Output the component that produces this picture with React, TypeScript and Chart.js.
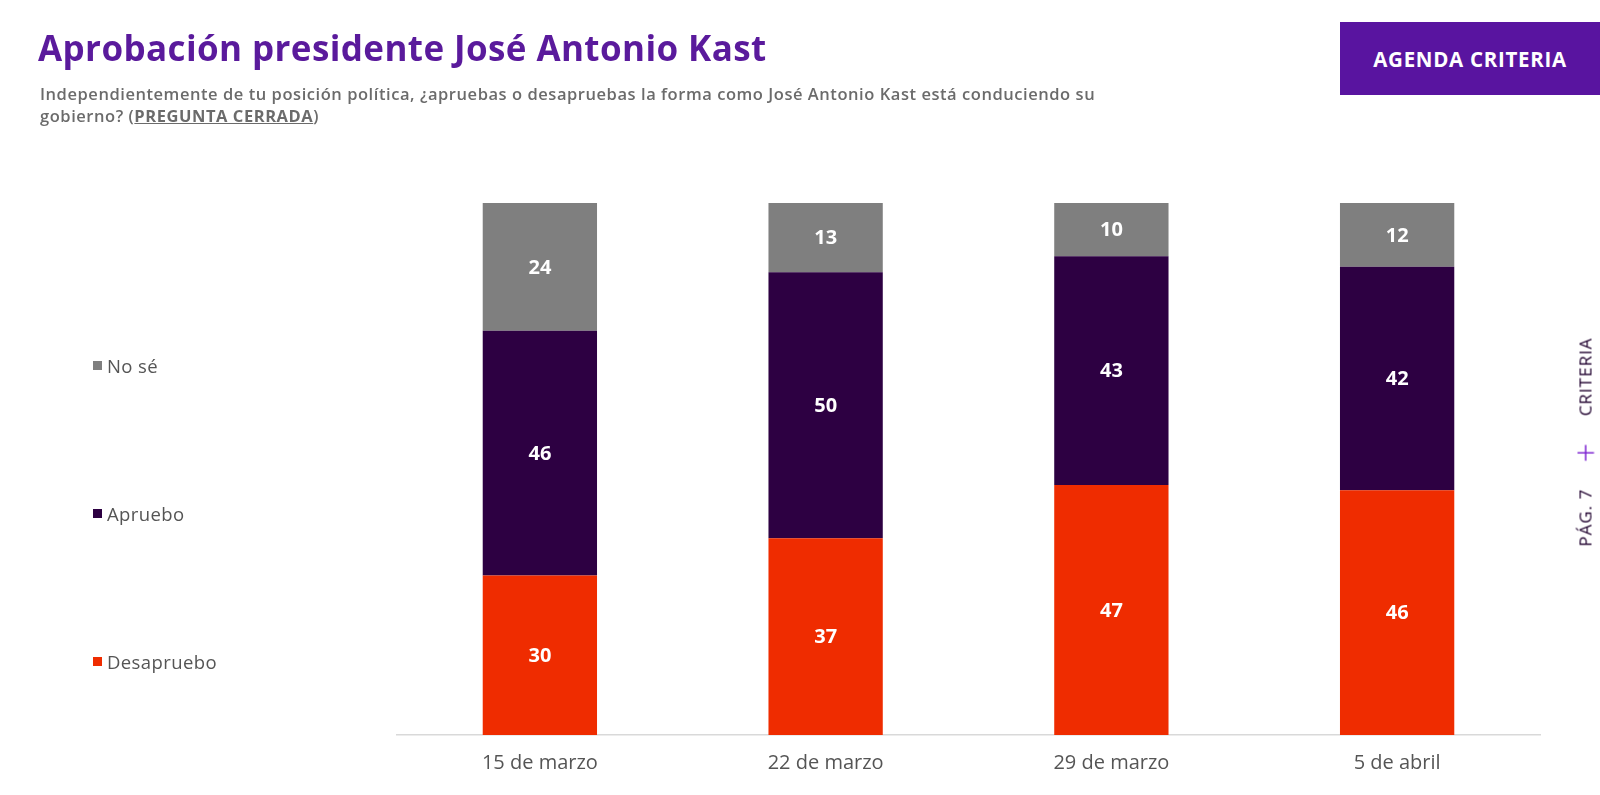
import React, { useEffect, useRef } from "react";
import { Chart, registerables } from "chart.js";

Chart.register(...registerables);

const categories = ["15 de marzo", "22 de marzo", "29 de marzo", "5 de abril"];
const desapruebo = [30, 37, 47, 46];
const apruebo = [46, 50, 43, 42];
const noSe = [24, 13, 10, 12];
const seriesNames = ["Desapruebo", "Apruebo", "No sé"];
const legendNames = ["No sé", "Apruebo", "Desapruebo"];

const RED = "#ef2c00";
const PURPLE_DARK = "#2d0042";
const GRAY = "#7f7f7f";
const FONT = '"Open Sans", "DejaVu Sans", sans-serif';

const valueLabels = {
  id: "valueLabels",
  afterDatasetsDraw(chart: any) {
    const ctx = chart.ctx;
    ctx.save();
    ctx.fillStyle = "#ffffff";
    ctx.font = `700 20px ${FONT}`;
    ctx.textAlign = "center";
    ctx.textBaseline = "middle";
    chart.data.datasets.forEach((ds: any, di: number) => {
      const meta = chart.getDatasetMeta(di);
      meta.data.forEach((el: any, i: number) => {
        const v = ds.data[i];
        const y = (el.y + el.base) / 2;
        ctx.fillText(String(v), el.x, y + 1);
      });
    });
    ctx.restore();
  },
};

export default function App() {
  const ref = useRef<HTMLCanvasElement | null>(null);
  useEffect(() => {
    if (!ref.current) return;
    const chart = new Chart(ref.current, {
      type: "bar",
      data: {
        labels: categories,
        datasets: [
          { label: seriesNames[0], data: desapruebo, backgroundColor: RED },
          { label: seriesNames[1], data: apruebo, backgroundColor: PURPLE_DARK },
          { label: seriesNames[2], data: noSe, backgroundColor: GRAY },
        ],
      },
      options: {
        animation: false,
        responsive: false,
        devicePixelRatio: 1,
        layout: { padding: { left: 397, right: 60, top: 203, bottom: 4 } },
        datasets: { bar: { barPercentage: 0.4, categoryPercentage: 1 } },
        plugins: { legend: { display: false }, tooltip: { enabled: false } },
        scales: {
          x: {
            stacked: true,
            grid: { display: false, drawTicks: false },
            border: { display: true, color: "#d9d9d9", width: 1.5 },
            ticks: { color: "#555555", font: { family: FONT, size: 20 }, padding: 16 },
          },
          y: { stacked: true, display: false, min: 0, max: 100 },
        },
      },
      plugins: [valueLabels],
    });
    return () => chart.destroy();
  }, []);

  const legendColors: Record<string, string> = { "No sé": GRAY, Apruebo: PURPLE_DARK, Desapruebo: RED };
  const legendY = [365, 513, 661];

  return (
    <div style={{ position: "absolute", left: 0, top: 0, width: 1600, height: 795, background: "#fff", fontFamily: FONT, overflow: "hidden" }}>
      <canvas ref={ref} width={1600} height={795} style={{ position: "absolute", left: 0, top: 0 }} />
      <div style={{ position: "absolute", left: 38, top: 24, fontSize: 35, fontWeight: 700, color: "#5a1a9c", letterSpacing: 0.4, whiteSpace: "nowrap" }}>
        Aprobación presidente José Antonio Kast
      </div>
      <div style={{ position: "absolute", left: 40, top: 83, width: 1125, fontSize: 16.5, lineHeight: "21.5px", color: "#6b6b6b", fontWeight: 600, letterSpacing: 0.55 }}>
        Independientemente de tu posición política, ¿apruebas o desapruebas la forma como José Antonio Kast está conduciendo su gobierno? (
        <span style={{ fontWeight: 700, textDecoration: "underline" }}>PREGUNTA CERRADA</span>)
      </div>
      <div style={{ position: "absolute", left: 1340, top: 22, width: 260, height: 73, background: "#5914a0", color: "#fff", fontWeight: 700, fontSize: 20.5, letterSpacing: 0.7, display: "flex", alignItems: "center", justifyContent: "center" }}>
        AGENDA CRITERIA
      </div>
      {legendNames.map((n, i) => (
        <div key={n} style={{ position: "absolute", left: 93, top: legendY[i] - 12, height: 24, display: "flex", alignItems: "center", fontSize: 18.5, letterSpacing: 0.4, color: "#555" }}>
          <span style={{ display: "inline-block", width: 9, height: 9, background: legendColors[n], marginRight: 5 }} />
          {n}
        </div>
      ))}
      <div style={{ position: "absolute", left: 1585, top: 442, transform: "translate(-50%, -50%) rotate(-90deg)", whiteSpace: "nowrap", fontSize: 17, letterSpacing: 1, color: "#1f002e", display: "flex", alignItems: "center" }}>
        <span>PÁG. 7</span>
        <span style={{ color: "#7a1fd0", fontSize: 34, fontWeight: 300, margin: "0 26px", lineHeight: "20px" }}>+</span>
        <span>CRITERIA</span>
      </div>
    </div>
  );
}
